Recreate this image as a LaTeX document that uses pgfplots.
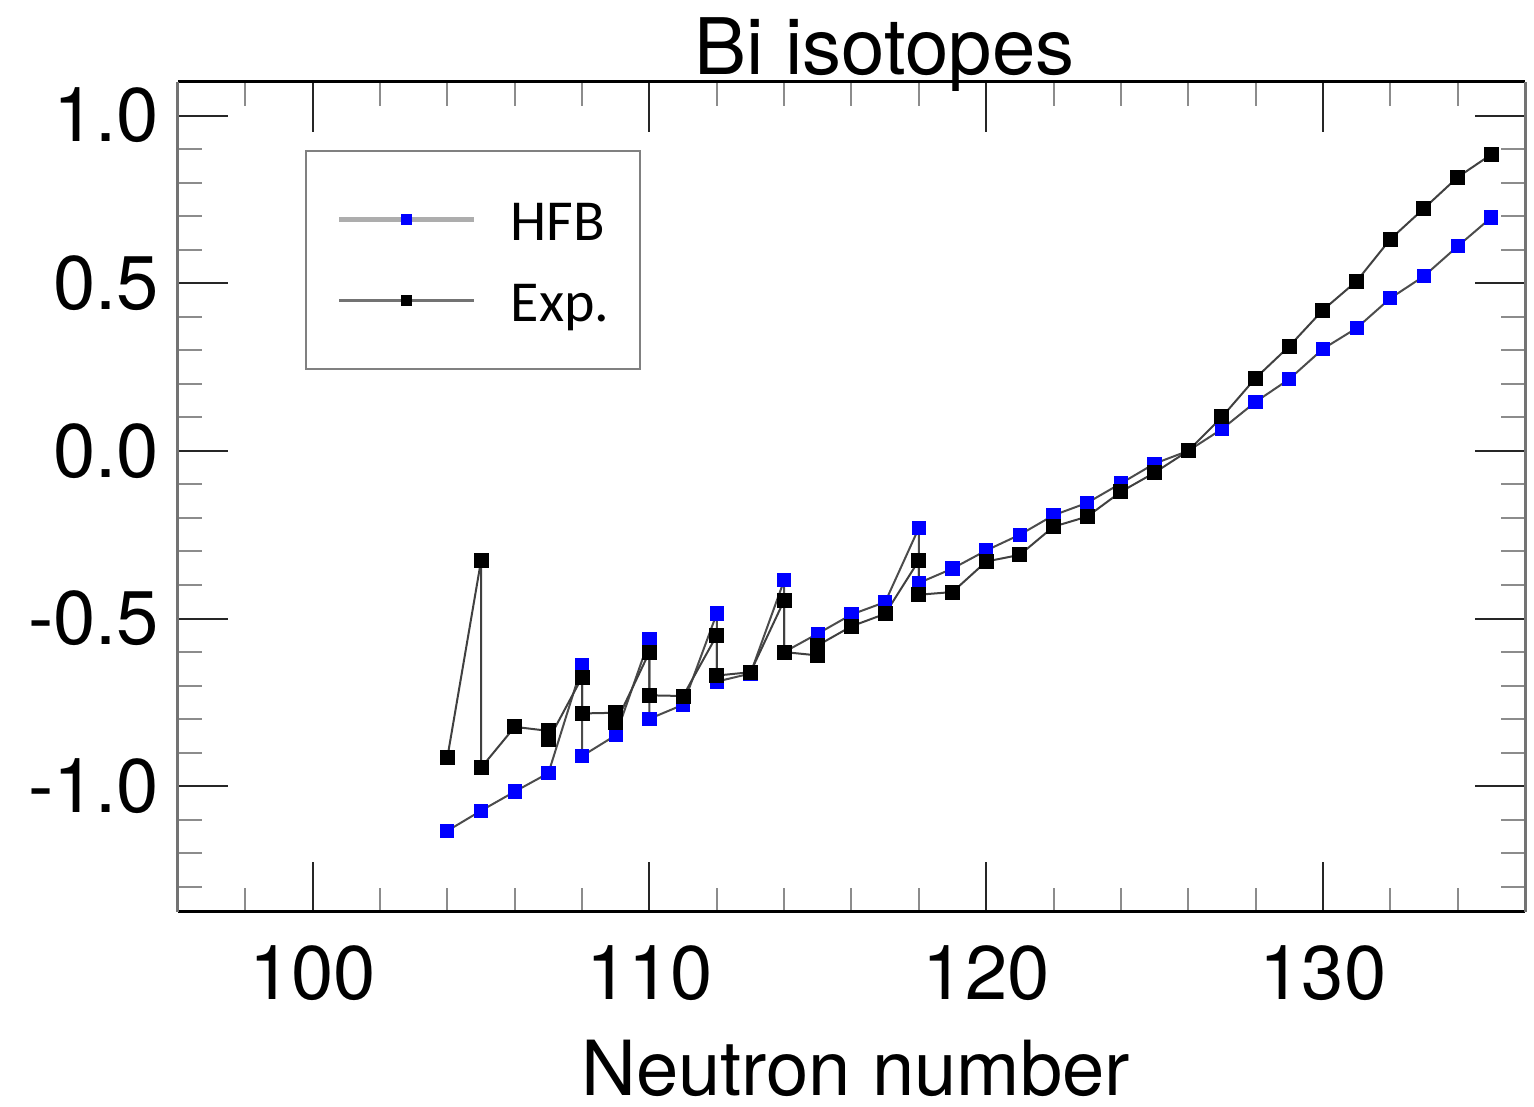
\documentclass[border=0pt]{standalone}
\usepackage{fontspec}
\setmainfont{TeX Gyre Heros}
\newfontfamily\carlito{Carlito}
\usepackage{pgfplots}
\pgfplotsset{compat=1.18}
\usepackage{pgfplotstable}

\pgfplotstableread{
N y
104 -1.133
105 -1.073
106 -1.016
107 -0.961
108 -0.640
108 -0.910
109 -0.848
110 -0.562
110 -0.799
111 -0.757
112 -0.485
112 -0.688
113 -0.664
114 -0.386
114 -0.600
115 -0.545
116 -0.488
117 -0.451
118 -0.230
118 -0.394
119 -0.351
120 -0.297
121 -0.250
122 -0.192
123 -0.155
124 -0.097
125 -0.038
126 0.000
127 0.065
128 0.146
129 0.214
130 0.304
131 0.366
132 0.455
133 0.521
134 0.610
135 0.696
}\hfbdata

\pgfplotstableread{
N y
104 -0.914
105 -0.327
105 -0.945
106 -0.823
107 -0.835
107 -0.862
108 -0.675
108 -0.783
109 -0.781
109 -0.811
110 -0.600
110 -0.729
111 -0.731
112 -0.550
112 -0.670
113 -0.660
114 -0.446
114 -0.600
115 -0.610
115 -0.580
116 -0.523
117 -0.486
118 -0.327
118 -0.429
119 -0.421
120 -0.330
121 -0.310
122 -0.226
123 -0.196
124 -0.122
125 -0.065
126 0.000
127 0.101
128 0.217
129 0.312
130 0.420
131 0.506
132 0.631
133 0.723
134 0.816
135 0.884
}\expdata

\begin{document}
\begin{tikzpicture}
\begin{axis}[
  scale only axis, width=336.75pt, height=207.5pt,
  xmin=96, xmax=136, ymin=-1.375, ymax=1.1,
  clip=false,
  xtick={100,110,120,130}, xticklabels={100,110,120,130},
  ytick={-1,-0.5,0,0.5,1}, yticklabels={-1.0,-0.5,0.0,0.5,1.0},
  minor xtick={98,102,104,106,108,112,114,116,118,122,124,126,128,132,134},
  minor ytick={-1.3,-1.2,-1.1,-0.9,-0.8,-0.7,-0.6,-0.4,-0.3,-0.2,-0.1,0.1,0.2,0.3,0.4,0.6,0.7,0.8,0.9},
  tick align=inside, tick pos=both,
  major tick length=12.5pt, minor tick length=6pt,
  every major tick/.append style={black!85, line width=0.5pt},
  every minor tick/.append style={black!45, line width=0.5pt},
  separate axis lines,
  x axis line style={black, line width=0.75pt},
  y axis line style={black!55, line width=0.75pt},
  ticklabel style={font=\fontsize{19}{22}\selectfont, inner sep=0pt},
  xticklabel style={yshift=-8.25pt},
  yticklabel style={xshift=-4.5pt},
  every axis title shift=0pt,
  title={Bi isotopes},
  title style={font=\fontsize{19.5}{22}\selectfont, at={(0.5245,1)}, anchor=base, yshift=1.75pt, inner sep=0pt},
  xlabel={Neutron number},
  xlabel style={font=\fontsize{19}{22}\selectfont, at={(0.503,0)}, anchor=base, yshift=-46pt, inner sep=0pt},
  legend style={at={(0.0943,0.918)}, anchor=north west, draw=black!50, line width=0.6pt, fill=white,
    inner xsep=7.6pt, inner ysep=7pt, font=\carlito\fontsize{14.5}{17}\selectfont,
    cells={anchor=west}, nodes={inner sep=0pt, text height=15.25pt, text depth=5pt},
    /tikz/every odd column/.append style={column sep=8.5pt}},
  legend image code/.code={\draw[mark repeat=2,mark phase=2,#1] plot coordinates {(0pt,0pt)(16.875pt,0pt)(33.75pt,0pt)};},
]
\addplot[forget plot, black!70, line width=0.5pt, mark=square*, mark size=1.65pt,
  mark options={fill=blue, draw=blue, line width=0pt}] table[x=N, y=y] {\hfbdata};
\addplot[forget plot, black!75, line width=0.5pt, mark=square*, mark size=1.75pt,
  mark options={fill=black, draw=black, line width=0pt}] table[x=N, y=y] {\expdata};
\addlegendimage{black!32, line width=1.3pt, mark=square*, mark size=1.3pt, mark options={fill=blue, draw=blue, line width=0pt}}
\addlegendentry{HFB}
\addlegendimage{black!55, line width=0.8pt, mark=square*, mark size=1.3pt, mark options={fill=black, draw=black, line width=0pt}}
\addlegendentry{Exp.}
\end{axis}
\pgfresetboundingbox
\path ([xshift=-44.5pt,yshift=-48.75pt]current axis.south west) rectangle ([xshift=2.25pt,yshift=20.5pt]current axis.north east);
\end{tikzpicture}
\end{document}
